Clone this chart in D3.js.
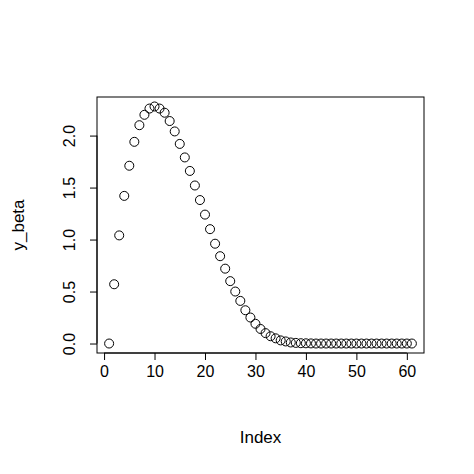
<!DOCTYPE html>
<html><head><meta charset="utf-8">
<script src="https://cdn.jsdelivr.net/npm/d3@7"></script>
<style>body{margin:0;background:#fff}</style></head>
<body><svg id="c" width="474" height="474"></svg>
<script>
const yBeta = [0,0.57,1.04,1.42,1.71,1.94,2.10,2.20,2.26,2.28,2.26,2.22,2.14,2.04,1.92,1.79,1.66,1.52,1.38,1.24,1.10,0.96,0.84,0.72,0.60,0.50,0.41,0.32,0.25,0.19,0.14,0.10,0.07,0.05,0.03,0.02,0.01,0.006,0.003,0.002,0.001,0,0,0,0,0,0,0,0,0,0,0,0,0,0,0,0,0,0,0,0];
const xTicks = [0,10,20,30,40,50,60];
const yTicks = [0.0,0.5,1.0,1.5,2.0];
const svg = d3.select("#c");
const L=97,R=424,T=97,B=353;
const x = d3.scaleLinear().domain([1-2.4,61+2.4]).range([L,R]);
const ymax=d3.max(yBeta), p=ymax*0.04;
const y = d3.scaleLinear().domain([-p,ymax+p]).range([B,T]);
const font="Liberation Sans, Arial, sans-serif";
svg.append("rect").attr("x",L).attr("y",T).attr("width",R-L).attr("height",B-T).attr("fill","none").attr("stroke","#000");
svg.append("g").attr("transform",`translate(0,${B})`).call(d3.axisBottom(x).tickValues(xTicks).tickSize(7).tickPadding(6))
 .call(g=>{g.select(".domain").attr("d",`M${x(0)},0H${x(60)}`);g.selectAll("text").attr("font-size",16).attr("font-family",font);});
const ya=svg.append("g").attr("transform",`translate(${L},0)`).call(d3.axisLeft(y).tickValues(yTicks).tickFormat(d3.format(".1f")).tickSize(7))
 .call(g=>{g.select(".domain").attr("d",`M0,${y(0)}V${y(2)}`);});
ya.selectAll("text").attr("font-size",16).attr("font-family",font).attr("text-anchor","middle").attr("x",0)
 .attr("transform","translate(-28,0) rotate(-90)").attr("dy","0.35em");
svg.selectAll("circle").data(yBeta).join("circle").attr("cx",(d,i)=>x(i+1)).attr("cy",d=>y(d)).attr("r",4.5).attr("fill","none").attr("stroke","#000");
svg.append("text").attr("x",(L+R)/2).attr("y",443).attr("text-anchor","middle").attr("font-size",17).attr("font-family",font).text("Index");
svg.append("text").attr("transform",`translate(24,${(T+B)/2}) rotate(-90)`).attr("text-anchor","middle").attr("font-size",17).attr("font-family",font).text("y_beta");
</script></body></html>
